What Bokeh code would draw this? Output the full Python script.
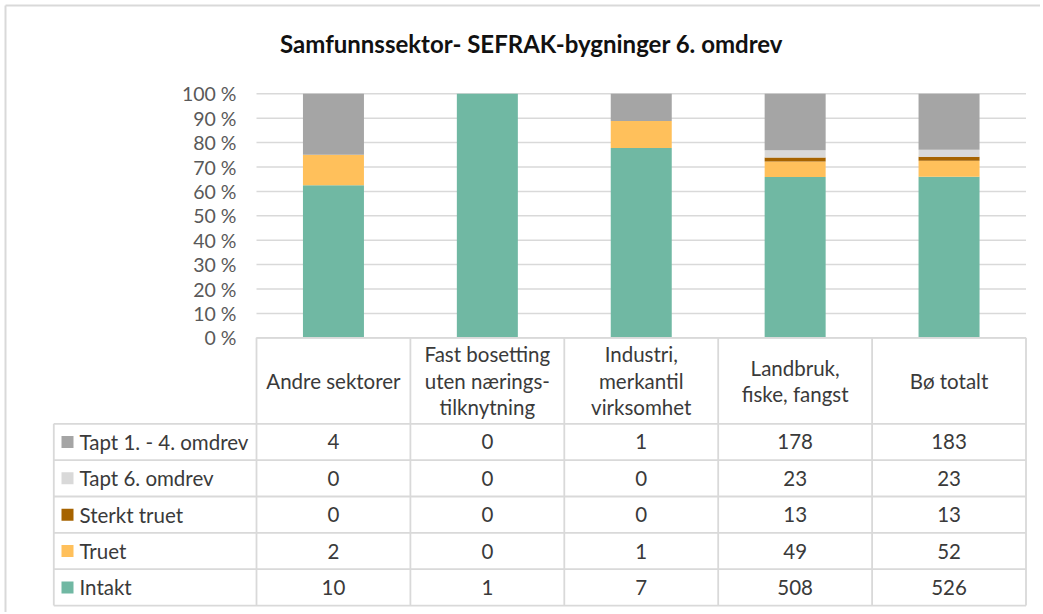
from bokeh.plotting import figure
from bokeh.models import (ColumnDataSource, Range1d, LinearAxis, FixedTicker,
                          PrintfTickFormatter)
from bokeh.core.properties import value
from bokeh.embed import file_html
from bokeh.resources import INLINE

# ---------------- data ----------------
categories = ["Andre sektorer", "Fast bosetting uten nærings-tilknytning",
              "Industri, merkantil virksomhet", "Landbruk, fiske, fangst", "Bø totalt"]
category_labels = ["Andre sektorer", "Fast bosetting\nuten nærings-\ntilknytning",
                   "Industri,\nmerkantil\nvirksomhet", "Landbruk,\nfiske, fangst", "Bø totalt"]
series_names = ["Intakt", "Truet", "Sterkt truet", "Tapt 6. omdrev", "Tapt 1. - 4. omdrev"]
intakt = [10, 1, 7, 508, 526]
truet = [2, 0, 1, 49, 52]
sterkt_truet = [0, 0, 0, 13, 13]
tapt_6 = [0, 0, 0, 23, 23]
tapt_1_4 = [4, 0, 1, 178, 183]
y_ticks = [0, 10, 20, 30, 40, 50, 60, 70, 80, 90, 100]
title_text = "Samfunnssektor- SEFRAK-bygninger 6. omdrev"

series_values = [intakt, truet, sterkt_truet, tapt_6, tapt_1_4]
colors = ["#70b8a3", "#ffc05b", "#a66300", "#d9d9d9", "#a5a5a5"]

# ---------------- layout constants (page pixels) ----------------
W, H = 1040, 612
ORIGIN = 0             # page offset of the canvas
COL_W = 153.9          # width of one category column
X_PLOT_LEFT = 256.0    # page x of the plot/table left edge
Y_ZERO = 337.3         # page y of 0 %
PX_PER_PCT = 2.44
FONT = value("Lato")
GRID = "#d9d9d9"
TXT = "#3a3a3a"


def dx(px):
    return (px - X_PLOT_LEFT) / COL_W


def dy(py):
    return (Y_ZERO - py) / PX_PER_PCT


p = figure(width=W, height=H, output_backend="svg", toolbar_location=None,
           x_range=Range1d(dx(ORIGIN), dx(ORIGIN + W)),
           y_range=Range1d(dy(ORIGIN + H), dy(ORIGIN)),
           x_axis_type=None, y_axis_type=None,
           min_border=0, min_border_left=0, min_border_right=0,
           min_border_top=0, min_border_bottom=0)
p.outline_line_color = None
p.background_fill_color = "white"
p.border_fill_color = "white"

n = len(categories)
totals = [sum(v[i] for v in series_values) for i in range(n)]

# outer chart border (top and left)
p.segment(x0=[dx(5), dx(5)], y0=[dy(5), dy(5)],
          x1=[dx(ORIGIN + W), dx(5)], y1=[dy(5), dy(ORIGIN + H)],
          line_color=GRID, line_width=2)

# gridlines
p.segment(x0=[0] * len(y_ticks), x1=[n] * len(y_ticks), y0=y_ticks, y1=y_ticks,
          line_color=GRID, line_width=1.5)

# 100 % stacked bars
data = {"x": [i + 0.5 for i in range(n)]}
for name, vals in zip(series_names, series_values):
    data[name] = [100.0 * v / t for v, t in zip(vals, totals)]
source = ColumnDataSource(data)
p.vbar_stack(series_names, x="x", width=61 / COL_W, color=colors, line_color=None,
             source=source)

# y axis
ax = LinearAxis(fixed_location=0, ticker=FixedTicker(ticks=y_ticks),
                formatter=PrintfTickFormatter(format="%d %%"))
ax.axis_line_color = None
ax.major_tick_line_color = None
ax.minor_tick_line_color = None
ax.major_tick_out = 0
ax.major_tick_in = 0
ax.major_label_standoff = 20
ax.major_label_text_font = "Lato"
ax.major_label_text_font_size = "19.5px"
ax.major_label_text_color = "#595959"
p.add_layout(ax, "left")

# ---------------- data table ----------------
row_top = 423.3
row_h = 36.35
n_rows = len(series_names)
row_lines = [row_top + k * row_h for k in range(n_rows + 1)]
table_bottom = row_lines[-1]
left_col = 53.3
FS = "20.5px"

# vertical lines of the category columns
p.segment(x0=list(range(n + 1)), x1=list(range(n + 1)),
          y0=[0] * (n + 1), y1=[dy(table_bottom)] * (n + 1),
          line_color=GRID, line_width=1.8)
# header top line
p.segment(x0=[0], x1=[n], y0=[0], y1=[0], line_color=GRID, line_width=1.8)
# row lines
p.segment(x0=[dx(left_col)] * len(row_lines), x1=[n] * len(row_lines),
          y0=[dy(v) for v in row_lines], y1=[dy(v) for v in row_lines],
          line_color=GRID, line_width=1.8)
# left vertical line
p.segment(x0=[dx(left_col)], x1=[dx(left_col)], y0=[dy(row_top)], y1=[dy(table_bottom)],
          line_color=GRID, line_width=1.8)

# header texts
p.text(x=[i + 0.5 for i in range(n)], y=[dy((Y_ZERO + row_top) / 2)] * n,
       text=category_labels, text_font=FONT, text_font_size=FS,
       text_color=TXT, text_align="center", text_baseline="middle",
       text_line_height=1.1)

# rows: top to bottom in reverse stack order
row_series = list(reversed(series_names))
row_vals = list(reversed(series_values))
row_colors = list(reversed(colors))
row_centers = [dy(row_top + (k + 0.5) * row_h) for k in range(n_rows)]

p.scatter(x=[dx(67)] * n_rows, y=row_centers, marker="square", size=12,
          color=row_colors, line_color=None)
p.text(x=[dx(79)] * n_rows, y=row_centers, text=row_series, text_font=FONT,
       text_font_size=FS, text_color=TXT, text_align="left",
       text_baseline="middle")

vx, vy, vt = [], [], []
for k, vals in enumerate(row_vals):
    for i, v in enumerate(vals):
        vx.append(i + 0.5)
        vy.append(row_centers[k])
        vt.append(str(v))
p.text(x=vx, y=vy, text=vt, text_font=FONT, text_font_size=FS,
       text_color=TXT, text_align="center", text_baseline="middle")

# title
p.text(x=[dx(531)], y=[dy(43)], text=[title_text], text_font=FONT,
       text_font_size="24px", text_font_style="bold", text_color="#111111",
       text_align="center", text_baseline="middle")

open("out.html", "w").write(file_html(p, INLINE))
